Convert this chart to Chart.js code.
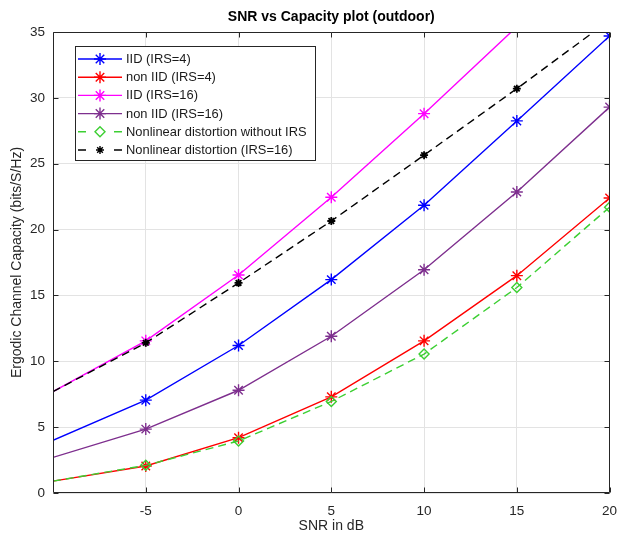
<!DOCTYPE html>
<html>
<head>
<meta charset="utf-8">
<script src="https://cdn.jsdelivr.net/npm/chart.js@4/dist/chart.umd.min.js"></script>
<style>
  html,body{margin:0;padding:0;background:#fff;}
  #wrap{width:617px;height:540px;position:relative;}
</style>
</head>
<body>
<div id="wrap"><canvas id="c" width="617" height="540"></canvas></div>
<script>
// ---- data ----
const snr = [-10, -5, 0, 5, 10, 15, 20];
const iidIrs4     = [4.0, 7.05, 11.2, 16.2, 21.85, 28.25, 34.7];
const nonIidIrs4  = [0.9, 2.05, 4.2, 7.3, 11.55, 16.5, 22.4];
const iidIrs16    = [7.7, 11.55, 16.55, 22.45, 28.8, 35.4, 42.0];
const nonIidIrs16 = [2.7, 4.85, 7.8, 11.9, 16.95, 22.85, 29.3];
const nlNoIrs     = [0.9, 2.1, 3.95, 6.95, 10.55, 15.6, 21.7];
const nlIrs16     = [7.7, 11.4, 15.95, 20.65, 25.65, 30.7, 35.9];
const seriesLabels = ['IID (IRS=4)', 'non IID (IRS=4)', 'IID (IRS=16)', 'non IID (IRS=16)',
                      'Nonlinear distortion without IRS', 'Nonlinear distortion (IRS=16)'];
const xTicks = [-5, 0, 5, 10, 15, 20];
const yTicks = [0, 5, 10, 15, 20, 25, 30, 35];
const titleText = 'SNR vs Capacity plot (outdoor)';
const xTitle = 'SNR in dB';
const yTitle = 'Ergodic Channel Capacity (bits/S/Hz)';

const FONT = '"Liberation Sans", Arial, Helvetica, sans-serif';
const Y_MAX = 35;

function pts(arr){ return snr.map((x,i)=>({x:x, y:arr[i]})); }

const styles = [
  {color:'#0000ff', dash:[], style:'star', r:6},
  {color:'#ff0000', dash:[], style:'star', r:6},
  {color:'#ff00ff', dash:[], style:'star', r:6},
  {color:'#7e2f8e', dash:[], style:'star', r:6},
  {color:'#3ccf32', dash:[8,5], style:'rectRot', r:5},
  {color:'#000000', dash:[8,5], style:'star', r:4}
];
const seriesData = [iidIrs4, nonIidIrs4, iidIrs16, nonIidIrs16, nlNoIrs, nlIrs16];

const datasets = seriesData.map((arr,k)=>{
  const s = styles[k];
  return {
    label: seriesLabels[k],
    data: pts(arr),
    borderColor: s.color,
    backgroundColor: 'rgba(0,0,0,0)',
    borderWidth: 1.4,
    borderDash: s.dash,
    pointStyle: s.style,
    pointBorderColor: s.color,
    pointBackgroundColor: 'rgba(0,0,0,0)',
    pointBorderWidth: k === 5 ? 1.8 : 1.4,
    pointRadius: (ctx)=> (ctx.dataIndex === 0 || (ctx.raw && ctx.raw.y > Y_MAX)) ? 0 : s.r,
    pointHoverRadius: 0,
    tension: 0,
    order: 6 - k
  };
});

const matlabPlugin = {
  id: 'matlabLook',
  afterDraw(chart){
    const {ctx, chartArea:a, scales} = chart;
    const xs = scales.x, ys = scales.y;
    const L = Math.round(a.left)+0.5, R = Math.round(a.right)-0.5;
    const T = Math.round(a.top)+0.5, B = Math.round(a.bottom)-0.5;
    ctx.save();
    ctx.strokeStyle = '#262626';
    ctx.lineWidth = 1;
    ctx.setLineDash([]);
    // box
    ctx.beginPath();
    ctx.rect(L, T, R-L, B-T);
    ctx.stroke();
    // inward ticks
    const tl = 5;
    ctx.beginPath();
    xTicks.forEach(v=>{
      const px = Math.round(xs.getPixelForValue(v))+0.5;
      ctx.moveTo(px, B); ctx.lineTo(px, B-tl);
      ctx.moveTo(px, T); ctx.lineTo(px, T+tl);
    });
    yTicks.forEach(v=>{
      const py = Math.round(ys.getPixelForValue(v))+0.5;
      ctx.moveTo(L, py); ctx.lineTo(L+tl, py);
      ctx.moveTo(R, py); ctx.lineTo(R-tl, py);
    });
    ctx.stroke();
    // title
    ctx.fillStyle = '#000';
    ctx.font = 'bold 14px ' + FONT;
    ctx.textAlign = 'center';
    ctx.textBaseline = 'middle';
    ctx.fillText(titleText, (a.left+a.right)/2, 17);
    // legend
    const bx = 75.5, by = 46.5, bw = 240, bh = 114;
    ctx.fillStyle = '#fff';
    ctx.fillRect(bx, by, bw, bh);
    ctx.strokeStyle = '#262626';
    ctx.strokeRect(bx, by, bw, bh);
    ctx.font = '12.9px ' + FONT;
    ctx.textAlign = 'left';
    chart.data.datasets.forEach((ds,k)=>{
      const s = styles[k];
      const yy = 59 + k*18.2;
      ctx.strokeStyle = s.color;
      ctx.lineWidth = 1.4;
      ctx.beginPath();
      if (s.dash.length){
        ctx.moveTo(78, yy); ctx.lineTo(86, yy);
        ctx.moveTo(114, yy); ctx.lineTo(122, yy);
      } else {
        ctx.moveTo(78, yy); ctx.lineTo(122, yy);
      }
      ctx.stroke();
      ctx.fillStyle = 'rgba(0,0,0,0)';
      Chart.helpers.drawPoint(ctx, {pointStyle:s.style, radius:s.r, borderWidth:(k===5?1.8:1.4), rotation:0}, 100, yy);
      ctx.fillStyle = '#1a1a1a';
      ctx.fillText(ds.label, 126, yy+0.5);
    });
    ctx.restore();
  }
};

new Chart(document.getElementById('c'), {
  type: 'line',
  data: { datasets },
  options: {
    responsive: false,
    animation: false,
    events: [],
    layout: { padding: { top: 32, right: 7, left: 0, bottom: 0 } },
    plugins: { legend: { display: false }, tooltip: { enabled: false }, title: { display: false } },
    scales: {
      x: {
        type: 'linear', min: -10, max: 20,
        afterFit: (s)=>{ s.height = 47; s.paddingLeft = 0; s.paddingRight = 0; },
        afterBuildTicks: (s)=>{ s.ticks = xTicks.map(v=>({value:v})); },
        ticks: { font: { size: 13.5, family: FONT }, color: '#262626', padding: 10, maxRotation: 0 },
        grid: { color: '#e3e3e3', lineWidth: 1, drawTicks: false },
        border: { display: false },
        title: { display: true, text: xTitle, font: { size: 14, family: FONT }, color: '#262626', padding: { top: 0, bottom: 5 } }
      },
      y: {
        type: 'linear', min: 0, max: Y_MAX,
        afterFit: (s)=>{ s.width = 53; s.paddingTop = 0; s.paddingBottom = 0; },
        afterBuildTicks: (s)=>{ s.ticks = yTicks.map(v=>({value:v})); },
        ticks: { font: { size: 13.5, family: FONT }, color: '#262626', padding: 8 },
        grid: { color: '#e3e3e3', lineWidth: 1, drawTicks: false },
        border: { display: false },
        title: { display: true, text: yTitle, font: { size: 14, family: FONT }, color: '#262626', padding: { top: 9, bottom: 0 } }
      }
    }
  },
  plugins: [matlabPlugin]
});
</script>
</body>
</html>
